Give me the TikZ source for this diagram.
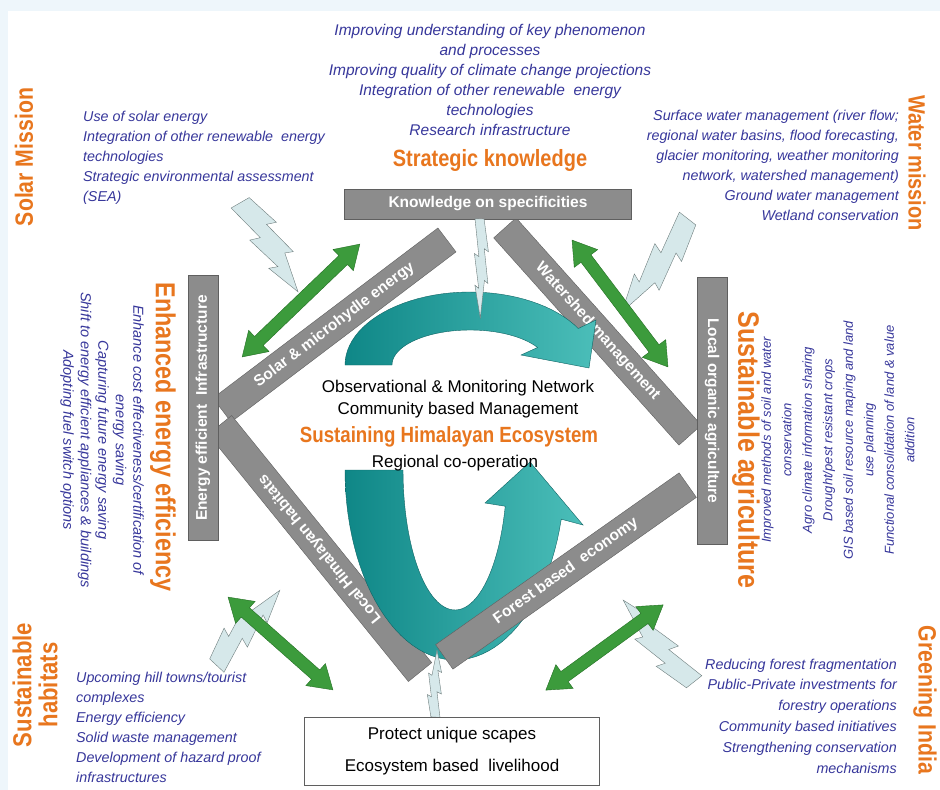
\documentclass[tikz,border=0pt]{standalone}
\usepackage{fontspec}
\setmainfont{Liberation Sans}
\newfontfamily\headfont[FakeStretch=0.85]{Liberation Sans}
\usetikzlibrary{shapes.arrows, positioning}

\definecolor{noteblue}{RGB}{55,55,155}
\definecolor{headorange}{RGB}{232,118,30}
\definecolor{barfill}{RGB}{140,140,140}
\definecolor{barline}{RGB}{95,95,95}
\definecolor{arrowgreen}{RGB}{60,155,60}
\definecolor{arrowline}{RGB}{35,110,35}
\definecolor{tealdark}{RGB}{15,135,135}
\definecolor{teallight}{RGB}{75,190,185}
\definecolor{tealline}{RGB}{15,100,100}
\definecolor{boltfill}{RGB}{214,232,234}
\definecolor{boltline}{RGB}{110,125,125}
\definecolor{framebg}{RGB}{238,246,251}

\begin{document}
\begin{tikzpicture}[x=1pt, y=-1pt,
    bar/.style={rectangle, draw=barline, fill=barfill, text=white, font=\bfseries\fontsize{15.5}{17}\selectfont, minimum height=30pt, inner sep=0pt},
    heading/.style={text=headorange, font=\headfont\bfseries\fontsize{#1}{#1}\selectfont, align=center, inner sep=0pt},
    heading/.default=24,
    note/.style={text=noteblue, font=\itshape\fontsize{14.3}{20}\selectfont, inner sep=0pt},
    body/.style={font=\fontsize{17}{20}\selectfont, inner sep=0pt},
    twoway/.style={double arrow, draw=arrowline, fill=arrowgreen, inner xsep=0pt, inner ysep=6pt, double arrow head extend=8.5pt, double arrow tip angle=65},
    loop/.style={draw=tealline, left color=tealdark, right color=teallight},
    boltshape/.style={draw=boltline, fill=boltfill, line join=miter},
    pics/bolt/.style={code={
        \path[boltshape] (0,1) -- (3.8,0.35) -- (3.5,1) -- (7,0.3) -- (6.7,0.85) -- (10,0)
            -- (6.2,-0.5) -- (6.5,-1) -- (3,-0.4) -- (3.3,-1) -- (0,-0.3) -- cycle;
    }}
]
    % Page and frame
    \fill[white] (0,0) rectangle (940,790);
    \fill[framebg] (0,0) rectangle (940,11);
    \fill[framebg] (0,0) rectangle (8,790);
    \useasboundingbox (0,0) rectangle (940,790);

    % Hexagon of bars
    \node[bar, minimum width=282pt, rotate=37.1] (solarbar) at (334.5,325) {Solar \& microhydle energy};
    \node[bar, minimum width=278pt, rotate=-48.2] (waterbar) at (597.5,331.5) {Watershed management};
    \node[bar, minimum width=318pt, rotate=129] (habitatbar) at (320,548.5) {Local Himalayan habitats};
    \node[bar, minimum width=287pt] (knowbar) at (488,204) {Knowledge on specificities};
    \node[bar, minimum width=265pt, rotate=90] (infrabar) at (203,408) {Energy efficient \ Infrastructure};
    \node[bar, minimum width=267pt, rotate=-90] (agribar) at (712,411) {Local organic agriculture};

    % Teal cycle arrows
    \path[loop] plot[domain=180:330, samples=40, variable=\t] ({470+125*cos(\t)},{365+73*sin(\t)})
        -- (596,320) -- (589,368) -- (521,355)
        -- plot[domain=330:180, samples=40, variable=\t] ({470+78*cos(\t)},{365+35*sin(\t)}) -- cycle;
    \path[loop] plot[domain=180:15, samples=50, variable=\t] ({455+110*cos(\t)},{470+190*sin(\t)})
        -- (583,525) -- (530,462) -- (485,503)
        -- plot[domain=15:180, samples=50, variable=\t] ({455+52*cos(\t)},{470+140*sin(\t)}) -- cycle;

    \node[bar, minimum width=298pt, rotate=35.2] (forestbar) at (566,571) {Forest based \ economy};

    % Lightning bolts
    \pic[rotate=-60, xscale=10.6, yscale=16] at (245,200) {bolt};
    \pic[rotate=-91, xscale=9.9, yscale=7] at (482,219) {bolt};
    \pic[rotate=-127.9, xscale=11.4, yscale=16] at (692,222) {bolt};
    \pic[rotate=47, xscale=9.8, yscale=15] at (213,662) {bolt};
    \pic[rotate=86.6, xscale=6.7, yscale=7] at (433,717) {bolt};
    \pic[rotate=128.2, xscale=10.8, yscale=15] at (690,685) {bolt};

    % Green two-way arrows
    \node[twoway, minimum height=163pt, rotate=43.8] (greennw) at (301,300.5) {};
    \node[twoway, minimum height=159pt, rotate=-52.9] (greenne) at (620,303.5) {};
    \node[twoway, minimum height=140pt, rotate=-41.5] (greensw) at (280.5,643.5) {};
    \node[twoway, minimum height=145pt, rotate=36] (greense) at (604.5,647.5) {};

    % Centre
    \node[body] (obs) at (458,388) {Observational \& Monitoring Network};
    \node[body] (comm) at (458,410) {Community based Management};
    \node[heading=22] (sustain) at (449,437) {Sustaining Himalayan Ecosystem};
    \node[body] (coop) at (455,463) {Regional co-operation};

    % Strategic knowledge
    \node[note, font=\itshape\fontsize{15.5}{20}\selectfont, align=center] (topnote) at (490,80)
        {Improving understanding of key phenomenon\\and processes\\Improving quality of climate change projections\\Integration of other renewable \ energy\\technologies\\Research infrastructure};
    \node[heading=23.5] (strategic) at (490,160) {Strategic knowledge};

    % Solar mission
    \node[heading=25, rotate=90] (solarhead) at (24,157) {Solar Mission};
    \node[note, align=left, anchor=west] (solarnote) at (83,158)
        {Use of solar energy\\Integration of other renewable \ energy\\technologies\\Strategic environmental assessment\\(SEA)};

    % Water mission
    \node[heading=23.5, rotate=-90] (waterhead) at (917,163) {Water mission};
    \node[note, align=right, anchor=east] (waternote) at (899,165)
        {Surface water management (river flow;\\regional water basins, flood forecasting,\\glacier monitoring, weather monitoring\\network, watershed management)\\Ground water management\\Wetland conservation};

    % Energy efficiency
    \node[heading=27.5, rotate=-90] (energyhead) at (163,437) {Enhanced energy efficiency};
    \node[note, align=center, rotate=-90, font=\itshape\fontsize{14.5}{17.5}\selectfont] (energynote) at (102,440)
        {Enhance cost effectiveness/certification of\\energy saving\\Capturing future energy saving\\Shift to energy efficient appliances \& buildings\\Adopting fuel switch options};

    % Sustainable agriculture
    \node[heading=29.5, rotate=-90] (agrihead) at (746,450) {Sustainable agriculture};
    \node[note, align=center, rotate=90, font=\itshape\fontsize{13}{20.5}\selectfont] (agrinote) at (838,440)
        {Improved methods of soil and water\\conservation\\Agro climate information sharing\\Drought/pest resistant crops\\GIS based soil resource maping and land\\use planning\\Functional consolidation of land \& value\\addition};

    % Sustainable habitats
    \node[heading, rotate=90, font=\headfont\bfseries\fontsize{26}{26}\selectfont] (habitathead) at (35,685) {Sustainable\\habitats};
    \node[note, align=left, anchor=west] (habitatnote) at (76,727)
        {Upcoming hill towns/tourist\\complexes\\Energy efficiency\\Solid waste management\\Development of hazard proof\\infrastructures};

    % Greening India
    \node[heading=25, rotate=-90] (greenhead) at (925,700) {Greening India};
    \node[note, align=right, anchor=east, font=\itshape\fontsize{14.3}{20.8}\selectfont] (forestnote) at (897,716)
        {Reducing forest fragmentation\\Public-Private investments for\\forestry operations\\Community based initiatives\\Strengthening conservation\\mechanisms};

    % Bottom box
    \node[draw=barline, fill=white, minimum width=295pt, minimum height=68pt, align=center, font=\fontsize{17}{32}\selectfont] (scapes) at (452,751)
        {Protect unique scapes\\Ecosystem based \ livelihood};
\end{tikzpicture}
\end{document}
